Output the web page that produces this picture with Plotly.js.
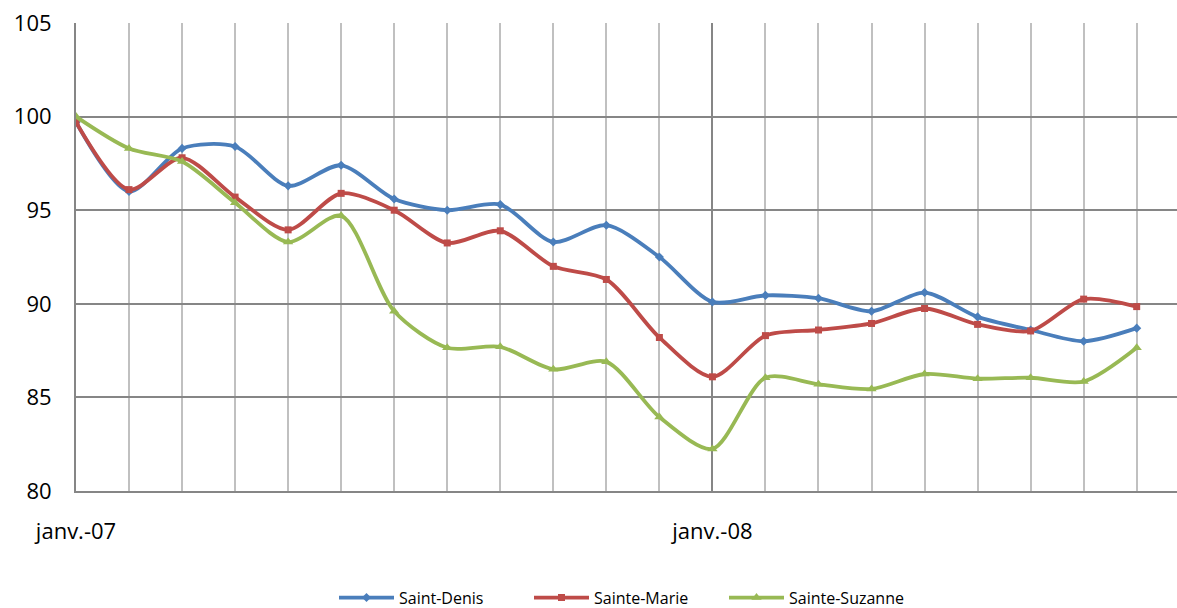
<!DOCTYPE html>
<html>
<head>
<meta charset="utf-8">
<script src="https://cdn.plot.ly/plotly-3.0.1.min.js"></script>
<style>html,body{margin:0;padding:0;background:#fff;}#chart{width:1177px;height:608px;}</style>
</head>
<body>
<div id="chart"></div>
<script>
const months = ["janv.-07","févr.-07","mars-07","avr.-07","mai-07","juin-07","juil.-07","août-07","sept.-07","oct.-07","nov.-07","déc.-07",
                "janv.-08","févr.-08","mars-08","avr.-08","mai-08","juin-08","juil.-08","août-08","sept.-08"];
const saintDenis   = [99.7, 96.0, 98.3, 98.4, 96.3, 97.4, 95.6, 95.0, 95.3, 93.3, 94.2, 92.5, 90.1, 90.45, 90.3, 89.6, 90.6, 89.3, 88.6, 88.0, 88.7];
const sainteMarie  = [99.7, 96.1, 97.8, 95.7, 93.95, 95.9, 95.0, 93.25, 93.9, 92.0, 91.3, 88.2, 86.1, 88.3, 88.6, 88.95, 89.75, 88.9, 88.55, 90.25, 89.85];
const sainteSuzanne= [100.0, 98.3, 97.6, 95.4, 93.3, 94.7, 89.6, 87.65, 87.7, 86.5, 86.9, 83.95, 82.25, 86.05, 85.7, 85.45, 86.25, 86.0, 86.05, 85.85, 87.65];
const seriesNames = ["Saint-Denis","Sainte-Marie","Sainte-Suzanne"];
const yTicks = [80, 85, 90, 95, 100, 105];

const idx = months.map((m, i) => i);
const janIdx = idx.filter(i => months[i].startsWith("janv."));

const styles = [
  {color:"#4A7EBB", symbol:"diamond", size:7},
  {color:"#BE4B48", symbol:"square", size:7},
  {color:"#98B954", symbol:"triangle-up", size:9}
];
const data = [saintDenis, sainteMarie, sainteSuzanne].map((vals, k) => ({
  type:"scatter", mode:"lines+markers", name:seriesNames[k],
  x: idx, y: vals,
  line:{color:styles[k].color, width:3.8, shape:"spline", smoothing:0.8},
  marker:{color:styles[k].color, symbol:styles[k].symbol, size:styles[k].size}
}));

const layout = {
  width:1177, height:608,
  margin:{l:76, r:0, t:23, b:117},
  paper_bgcolor:"#fff", plot_bgcolor:"#fff",
  font:{family:"Open Sans, sans-serif", color:"#000"},
  showlegend:true,
  legend:{orientation:"h", x:0.5, xanchor:"center", yref:"container", y:0.017, yanchor:"middle",
          font:{size:16, color:"#000"}, itemwidth:55, entrywidth:125, entrywidthmode:"pixels"},
  xaxis:{
    type:"linear", range:[0, 20.76], fixedrange:true,
    tickmode:"array", tickvals: janIdx, ticktext: janIdx.map(i => months[i]),
    showgrid:true, gridcolor:"#868686", gridwidth:2,
    minor:{tick0:0, dtick:1, showgrid:true, gridcolor:"#C0C0C0", gridwidth:2},
    showline:true, linecolor:"#868686", linewidth:2,
    ticks:"", ticklabelstandoff:20,
    tickfont:{size:22, color:"#000"}, zeroline:false
  },
  yaxis:{
    range:[80, 105], tickmode:"array", tickvals:yTicks, ticktext:yTicks.map(String),
    showgrid:true, gridcolor:"#868686", gridwidth:2,
    showline:true, linecolor:"#868686", linewidth:2,
    ticks:"", ticklabelstandoff:18,
    tickfont:{size:22, color:"#000"}, zeroline:false
  }
};
Plotly.newPlot("chart", data, layout, {displayModeBar:false, staticPlot:true});
</script>
</body>
</html>
